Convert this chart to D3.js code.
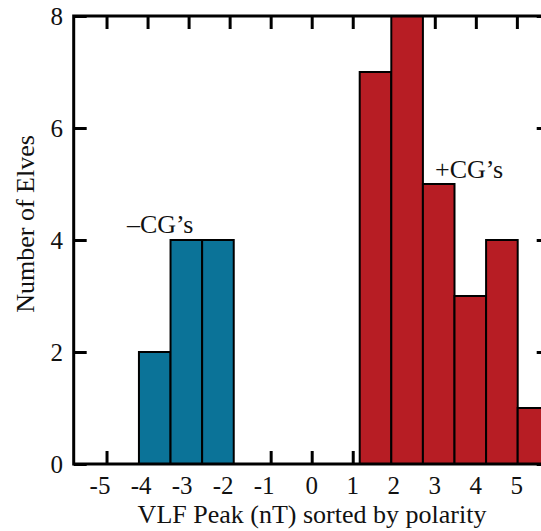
<!DOCTYPE html>
<html>
<head>
<meta charset="utf-8">
<script src="https://cdn.jsdelivr.net/npm/d3@7"></script>
<style>
  html, body { margin: 0; padding: 0; background: #fff; }
  svg { display: block; }
  text { font-family: "Liberation Serif", "Times New Roman", serif; fill: #111; }
</style>
</head>
<body>
<svg id="chart" width="541" height="531"></svg>
<script>
// Histogram of VLF peak amplitude (nT), split by lightning polarity
const binWidth = 0.77;
const negBinStarts = [-4.21, -3.44, -2.67];
const negCounts = [2, 4, 4];
const posBinStarts = [1.17, 1.94, 2.71, 3.48, 4.25, 5.02];
const posCounts = [7, 8, 5, 3, 4, 1];
const xTickValues = [-5, -4, -3, -2, -1, 0, 1, 2, 3, 4, 5];
const yTickValues = [0, 2, 4, 6, 8];
const xDomain = [-5.8, 5.8];
const yDomain = [0, 8];

const svg = d3.select("#chart");
const plotLeft = 73.7, plotRight = 549.7, plotTop = 16, plotBottom = 464;

const x = d3.scaleLinear().domain(xDomain).range([plotLeft, plotRight]);
const y = d3.scaleLinear().domain(yDomain).range([plotBottom, plotTop]);

const tickLen = 13;
const axisStyle = g => {
  g.select(".domain").remove();
  g.selectAll(".tick line").attr("stroke", "#000").attr("stroke-width", 3);
};

// Inward ticks on all four sides
svg.append("g").attr("transform", `translate(0,${plotBottom})`)
  .call(d3.axisBottom(x).tickValues(xTickValues).tickSizeInner(-tickLen).tickSizeOuter(0).tickFormat(""))
  .call(axisStyle);
svg.append("g").attr("transform", `translate(0,${plotTop})`)
  .call(d3.axisTop(x).tickValues(xTickValues).tickSizeInner(-tickLen).tickSizeOuter(0).tickFormat(""))
  .call(axisStyle);
svg.append("g").attr("transform", `translate(${plotLeft},0)`)
  .call(d3.axisLeft(y).tickValues(yTickValues).tickSizeInner(-tickLen).tickSizeOuter(0).tickFormat(""))
  .call(axisStyle);
svg.append("g").attr("transform", `translate(${plotRight},0)`)
  .call(d3.axisRight(y).tickValues(yTickValues).tickSizeInner(-tickLen).tickSizeOuter(0).tickFormat(""))
  .call(axisStyle);

// Bars
const negBins = negBinStarts.map((s, i) => ({ x0: s, x1: s + binWidth, n: negCounts[i] }));
const posBins = posBinStarts.map((s, i) => ({ x0: s, x1: s + binWidth, n: posCounts[i] }));

function drawBars(bins, color) {
  svg.append("g").selectAll("rect").data(bins).join("rect")
    .attr("x", d => x(d.x0))
    .attr("y", d => y(d.n))
    .attr("width", d => x(d.x1) - x(d.x0))
    .attr("height", d => y(0) - y(d.n))
    .attr("fill", color)
    .attr("stroke", "#000")
    .attr("stroke-width", 2);
}
drawBars(negBins, "#0b7398");
drawBars(posBins, "#b71d24");

// Frame
svg.append("rect")
  .attr("x", plotLeft).attr("y", plotTop)
  .attr("width", plotRight - plotLeft).attr("height", plotBottom - plotTop)
  .attr("fill", "none").attr("stroke", "#000").attr("stroke-width", 3);

// Tick labels
svg.append("g").selectAll("text").data(xTickValues).join("text")
  .attr("x", d => x(d) + (d < 0 ? -6.5 : 0))
  .attr("y", 494)
  .attr("text-anchor", "middle")
  .attr("font-size", 25)
  .text(d => d < 0 ? "-" + Math.abs(d) : String(d));

svg.append("g").selectAll("text").data(yTickValues).join("text")
  .attr("x", 63)
  .attr("y", d => y(d))
  .attr("dy", "0.34em")
  .attr("text-anchor", "end")
  .attr("font-size", 25)
  .text(d => d);

// Axis titles
svg.append("text")
  .attr("x", 312).attr("y", 523)
  .attr("text-anchor", "middle")
  .attr("font-size", 26)
  .text("VLF Peak (nT) sorted by polarity");

svg.append("text")
  .attr("transform", "translate(34,224) rotate(-90)")
  .attr("text-anchor", "middle")
  .attr("font-size", 26)
  .text("Number of Elves");

// Polarity annotations
svg.append("text")
  .attr("x", 127).attr("y", 233)
  .attr("font-size", 26)
  .text("\u2013CG\u2019s");
svg.append("text")
  .attr("x", 435).attr("y", 178)
  .attr("font-size", 26)
  .text("+CG\u2019s");
</script>
</body>
</html>
